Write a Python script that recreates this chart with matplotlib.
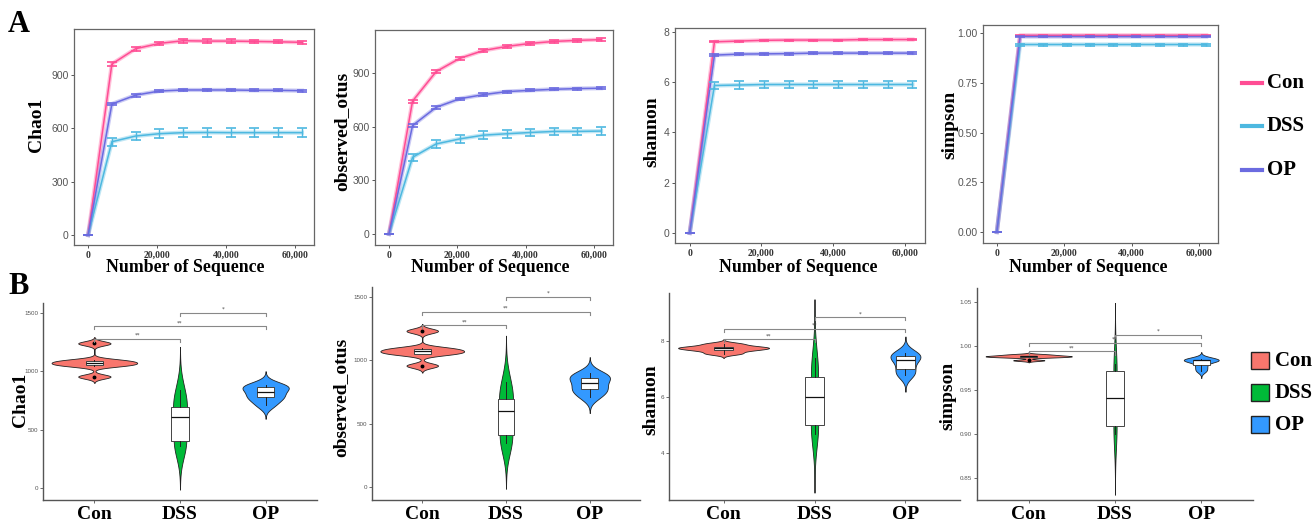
import numpy as np
import matplotlib
matplotlib.use('Agg')
import matplotlib.pyplot as plt
from matplotlib.lines import Line2D
from matplotlib.patches import Rectangle

W, H = 1316, 525
SERIF = 'Liberation Serif'
SANS = 'Liberation Sans'

groups = ['Con', 'DSS', 'OP']
line_colors = ['#FF4D94', '#4DB8E0', '#6B6BE0']
fill_colors = ['#F8766D', '#00BA38', '#3399FF']

# ---- rarefaction curves (panel A) ----
seqs = [0, 6900, 13800, 20700, 27600, 34500, 41400, 48300, 55200, 62100]

chao1_con = [0, 962, 1048, 1078, 1093, 1091, 1091, 1089, 1087, 1084]
chao1_dss = [0, 525, 557, 570, 576, 577, 576, 576, 576, 576]
chao1_op = [0, 737, 787, 810, 816, 816, 816, 814, 814, 812]
chao1_err_con = [0, 9, 10, 10, 10, 10, 10, 10, 9, 9]
chao1_err_dss = [0, 22, 25, 25, 25, 25, 25, 24, 24, 24]
chao1_err_op = [0, 8, 8, 7, 7, 7, 7, 6, 6, 6]

otus_con = [0, 744, 909, 983, 1027, 1050, 1067, 1078, 1084, 1088]
otus_dss = [0, 429, 504, 532, 553, 561, 568, 574, 574, 576]
otus_op = [0, 607, 709, 757, 780, 797, 804, 810, 814, 816]
otus_err_con = [0, 8, 8, 8, 8, 8, 8, 8, 8, 8]
otus_err_dss = [0, 18, 20, 21, 22, 22, 22, 22, 22, 22]
otus_err_op = [0, 7, 7, 7, 7, 6, 6, 6, 6, 6]

shannon_con = [0, 7.61, 7.64, 7.67, 7.68, 7.68, 7.68, 7.70, 7.70, 7.70]
shannon_dss = [0, 5.87, 5.89, 5.91, 5.91, 5.91, 5.91, 5.91, 5.91, 5.91]
shannon_op = [0, 7.08, 7.12, 7.13, 7.14, 7.16, 7.16, 7.16, 7.16, 7.16]
shannon_err_con = [0, 0.02, 0.02, 0.02, 0.02, 0.02, 0.02, 0.02, 0.02, 0.02]
shannon_err_dss = [0, 0.15, 0.15, 0.15, 0.15, 0.15, 0.15, 0.15, 0.15, 0.15]
shannon_err_op = [0, 0.04, 0.04, 0.04, 0.04, 0.04, 0.04, 0.04, 0.04, 0.04]

simpson_con = [0, 0.988, 0.988, 0.988, 0.988, 0.988, 0.988, 0.988, 0.988, 0.988]
simpson_dss = [0, 0.942, 0.942, 0.942, 0.942, 0.942, 0.942, 0.942, 0.942, 0.942]
simpson_op = [0, 0.982, 0.982, 0.982, 0.982, 0.982, 0.982, 0.982, 0.982, 0.982]
simpson_err_con = [0, 0.002, 0.002, 0.002, 0.002, 0.002, 0.002, 0.002, 0.002, 0.002]
simpson_err_dss = [0, 0.005, 0.005, 0.005, 0.005, 0.005, 0.005, 0.005, 0.005, 0.005]
simpson_err_op = [0, 0.004, 0.004, 0.004, 0.004, 0.004, 0.004, 0.004, 0.004, 0.004]

# ---- per-sample alpha diversity (panel B) ----
chao1_samples = [[955, 1050, 1062, 1082, 1095, 1240],
                 [356, 369, 520, 690, 700, 840],
                 [712, 775, 790, 850, 868, 882]]
otus_samples = [[958, 1050, 1062, 1082, 1096, 1232],
                [350, 372, 515, 683, 695, 830],
                [712, 765, 785, 850, 865, 897]]
shannon_samples = [[7.55, 7.66, 7.72, 7.76, 7.80, 7.90],
                   [4.69, 4.90, 5.30, 6.66, 6.72, 7.38],
                   [6.78, 6.92, 7.20, 7.44, 7.45, 7.56]]
simpson_samples = [[0.9838, 0.9872, 0.9880, 0.9885, 0.9893, 0.9905],
                   [0.900, 0.907, 0.915, 0.967, 0.9725, 0.980],
                   [0.972, 0.977, 0.983, 0.9843, 0.9845, 0.9848]]

sig_pairs = [(1, 2), (1, 3), (2, 3)]
sig_labels = ['**', '**', '*']
chao1_sig = [1277, 1387, 1500]
otus_sig = [1277, 1385, 1500]
shannon_sig = [8.06, 8.43, 8.84]
simpson_sig = [0.9939, 1.0038, 1.0129]


def px_axes(l, r, t, b):
    return [l / W, 1 - b / H, (r - l) / W, (b - t) / H]


def ftext(x, y, s, **kw):
    fig.text(x / W, 1 - y / H, s, **kw)


def kde(vals, n=512):
    v = np.asarray(vals, float)
    sd = v.std(ddof=1)
    q1, q3 = np.percentile(v, [25, 75])
    bw = 0.9 * min(sd, (q3 - q1) / 1.34) * len(v) ** -0.2
    grid = np.linspace(v.min() - 3 * bw, v.max() + 3 * bw, n)
    dens = np.exp(-0.5 * ((grid[:, None] - v[None, :]) / bw) ** 2).sum(1)
    dens = dens / (len(v) * bw * np.sqrt(2 * np.pi))
    return grid, dens


fig = plt.figure(figsize=(W / 100, H / 100), dpi=100)

# ---------------- panel A ----------------
top = [
    ((74, 314, 29, 245), 'Chao1', (37, 125), [chao1_con, chao1_dss, chao1_op],
     [chao1_err_con, chao1_err_dss, chao1_err_op], (-56, 1159), [0, 300, 600, 900], ['0', '300', '600', '900'], 185),
    ((375, 613, 30, 245), 'observed_otus', (342, 131), [otus_con, otus_dss, otus_op],
     [otus_err_con, otus_err_dss, otus_err_op], (-62, 1142), [0, 300, 600, 900], ['0', '300', '600', '900'], 490),
    ((675, 925, 28, 243), 'shannon', (652, 132), [shannon_con, shannon_dss, shannon_op],
     [shannon_err_con, shannon_err_dss, shannon_err_op], (-0.4, 8.16), [0, 2, 4, 6, 8], ['0', '2', '4', '6', '8'], 798),
    ((983, 1218, 25, 243), 'simpson', (950, 125), [simpson_con, simpson_dss, simpson_op],
     [simpson_err_con, simpson_err_dss, simpson_err_op], (-0.055, 1.04), [0, 0.25, 0.5, 0.75, 1.0],
     ['0.00', '0.25', '0.50', '0.75', '1.00'], 1088),
]

for box, ylab, lpos, series, errs, ylim, yt, ytl, xlab_x in top:
    ax = fig.add_axes(px_axes(*box))
    for vals, err, c in zip(series, errs, line_colors):
        ax.plot(seqs, vals, color=c, lw=3, alpha=0.35, zorder=2)
        ax.plot(seqs, vals, color=c, lw=1.1, zorder=3)
        ax.errorbar(seqs, vals, yerr=err, fmt='none', ecolor=c, elinewidth=1.0,
                    capsize=3.5, capthick=1.2, zorder=4)
    ax.set_xlim(-4100, 65600)
    ax.set_ylim(*ylim)
    ax.set_xticks([0, 20000, 40000, 60000])
    ax.set_xticklabels(['0', '20,000', '40,000', '60,000'], fontfamily=SERIF,
                       fontweight='bold', fontsize=7, color='#333333')
    ax.set_yticks(yt)
    ax.set_yticklabels(ytl, fontfamily=SANS, fontsize=7.5, color='#555555')
    ax.tick_params(length=2.5, width=0.7, color='#555555', pad=1.5)
    for s in ax.spines.values():
        s.set_color('#666666')
        s.set_linewidth(0.9)
    ftext(lpos[0], lpos[1], ylab, rotation=90, ha='center', va='center',
          fontfamily=SERIF, fontweight='bold', fontsize=14)
    ftext(xlab_x, 268, 'Number of Sequence', ha='center', va='center',
          fontfamily=SERIF, fontweight='bold', fontsize=12.8)

# legend A
for i, (g, c) in enumerate(zip(groups, line_colors)):
    y = [83, 126, 170][i]
    fig.add_artist(Line2D([1242 / W, 1262 / W], [1 - y / H, 1 - y / H], color=c, lw=3))
    ftext(1267, y, g, ha='left', va='center', fontfamily=SERIF, fontweight='bold', fontsize=15)

# ---------------- panel B ----------------
bottom = [
    ((43, 317, 303, 500), 'Chao1', (20, 400), chao1_samples, chao1_sig, 25, (-103, 1586),
     [0, 500, 1000, 1500], ['0', '500', '1000', '1500']),
    ((372, 640, 287, 500), 'observed_otus', (341, 397), otus_samples, otus_sig, 25, (-103, 1579),
     [0, 500, 1000, 1500], ['0', '500', '1000', '1500']),
    ((669, 960, 293, 500), 'shannon', (651, 400), shannon_samples, shannon_sig, 0.1, (2.32, 9.71),
     [4, 6, 8], ['4', '6', '8']),
    ((977, 1253, 288, 500), 'simpson', (948, 396), simpson_samples, simpson_sig, 0.0035, (0.825, 1.066),
     [0.85, 0.90, 0.95, 1.00, 1.05], ['0.85', '0.90', '0.95', '1.00', '1.05']),
]

for box, ylab, lpos, samples, sig, tip, ylim, yt, ytl in bottom:
    ax = fig.add_axes(px_axes(*box))
    kd = [kde(s) for s in samples]
    dmax = max(d.max() for _, d in kd)
    for i, ((grid, dens), c) in enumerate(zip(kd, fill_colors)):
        half = 0.5 * dens / dmax
        ax.fill_betweenx(grid, i + 1 - half, i + 1 + half, facecolor=c,
                         edgecolor='#222222', lw=0.6, zorder=2)
    ax.boxplot(samples, positions=[1, 2, 3], widths=0.2, patch_artist=True,
               manage_ticks=False, zorder=3,
               boxprops=dict(facecolor='white', edgecolor='#444444', lw=0.7),
               medianprops=dict(color='#111111', lw=0.9),
               whiskerprops=dict(color='#222222', lw=0.7),
               capprops=dict(lw=0),
               flierprops=dict(marker='o', markersize=1.8, markerfacecolor='k',
                               markeredgecolor='k'))
    for (a, b), h, lab in zip(sig_pairs, sig, sig_labels):
        ax.plot([a, a, b, b], [h - tip, h, h, h - tip], color='#888888', lw=0.8, zorder=4)
        ax.text((a + b) / 2, h + tip * 0.35, lab, ha='center', va='bottom', fontsize=4,
                color='#444444', zorder=5)
    ax.set_xlim(0.4, 3.6)
    ax.set_ylim(*ylim)
    ax.set_xticks([1, 2, 3])
    ax.set_xticklabels(groups, fontfamily=SERIF, fontweight='bold', fontsize=14)
    ax.set_yticks(yt)
    ax.set_yticklabels(ytl, fontfamily=SANS, fontsize=4.5, color='#555555')
    ax.tick_params(axis='x', length=2.5, width=0.6, color='#555555', pad=1.5)
    ax.tick_params(axis='y', length=2, width=0.6, color='#555555', pad=1.5)
    ax.spines['top'].set_visible(False)
    ax.spines['right'].set_visible(False)
    for s in ('left', 'bottom'):
        ax.spines[s].set_color('#555555')
        ax.spines[s].set_linewidth(1.0)
    ftext(lpos[0], lpos[1], ylab, rotation=90, ha='center', va='center',
          fontfamily=SERIF, fontweight='bold', fontsize=14)

# legend B
for i, (g, c) in enumerate(zip(groups, fill_colors)):
    y = [352, 384, 416][i]
    fig.add_artist(Rectangle((1251 / W, 1 - (y + 17) / H), 18 / W, 17 / H, facecolor=c,
                             edgecolor='#222222', lw=1.0, transform=fig.transFigure))
    ftext(1275, y + 8.5, g, ha='left', va='center', fontfamily=SERIF, fontweight='bold', fontsize=15)

ftext(8, 25, 'A', ha='left', va='center', fontfamily=SERIF, fontweight='bold', fontsize=22)
ftext(8, 287, 'B', ha='left', va='center', fontfamily=SERIF, fontweight='bold', fontsize=22)

fig.savefig('out.png', dpi=100)
